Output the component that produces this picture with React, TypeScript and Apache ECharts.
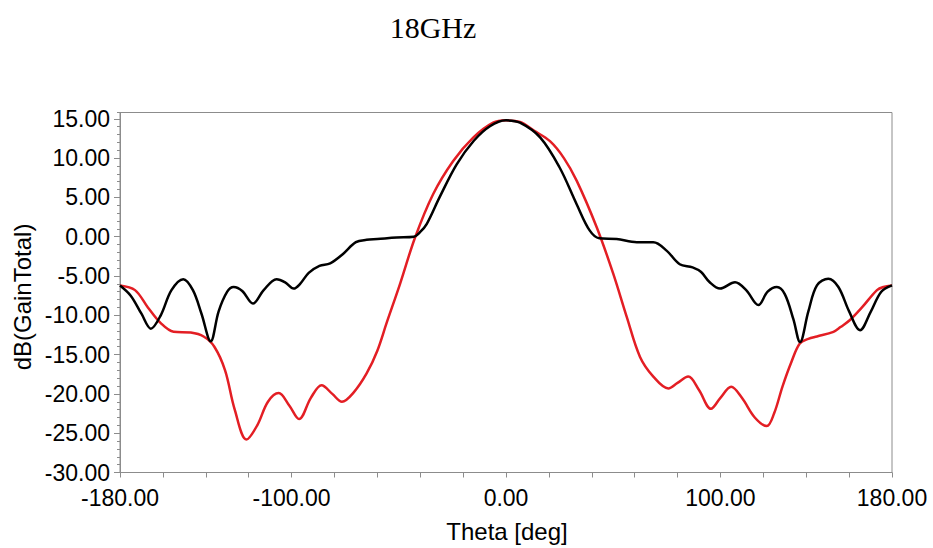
import React, { useEffect, useRef } from "react";
import * as echarts from "echarts";

const chartTitle = "18GHz";
const xAxisName = "Theta [deg]";
const yAxisName = "dB(GainTotal)";
const xLabelValues = [-180, -100, 0, 100, 180];

const blackTheta = [
  -180, -175, -170, -165.6, -161, -156, -150.5, -146, -142, -137.7, -134, -130, -127, -123, -118, -113, -107, -103,
  -99, -96, -92, -87, -82, -76, -70, -65, -60, -51, -43, -40, -37, -31, -23, -15, -7.5, 0, 6.5, 16, 25, 33, 39, 43.5,
  51.6, 61, 68.7, 75, 81, 87, 91, 95, 99.8, 106.8, 112, 117.7, 122, 126.3, 130, 134, 137.1, 141, 145, 150.3, 155, 160,
  165.1, 170, 175, 180,
];
const blackGain = [
  -6.2, -7.5, -9.8, -11.7, -10.0, -6.8, -5.4, -6.8, -9.8, -13.3, -9.5, -7.0, -6.4, -6.9, -8.5, -6.8, -5.4, -5.8,
  -6.6, -6.0, -4.6, -3.7, -3.4, -2.2, -0.7, -0.4, -0.3, -0.1, 0.0, 0.6, 1.6, 5.0, 9.2, 12.2, 14.05, 14.8, 14.5, 12.6,
  8.8, 4.1, 0.8, -0.2, -0.3, -0.7, -0.7, -1.8, -3.5, -3.9, -4.5, -5.8, -6.6, -5.8, -6.8, -8.7, -7.0, -6.4, -7.3, -10.5,
  -13.4, -9.5, -6.2, -5.35, -6.4, -9.5, -11.9, -9.6, -7.0, -6.2,
];

const redTheta = [
  -180, -173, -167, -161, -155, -147, -141, -136, -131, -126.5, -121, -116, -111, -106, -101, -96.5, -91, -86, -81,
  -76.5, -71, -65, -60, -55.7, -49.4, -42.4, -34, -24.7, -15.3, -6, 0, 6.5, 13, 20.5, 27, 33, 42.3, 50, 56.3, 62.5,
  68.7, 75.7, 80, 85, 90, 95.6, 100, 105, 110, 116, 121.6, 125, 129, 133, 137, 141, 145, 152.7, 156, 160.4, 166, 173,
  176, 180,
];
const redGain = [
  -6.2, -6.8, -9.0, -11.0, -12.1, -12.2, -12.7, -14.0, -17.0, -22.0, -25.8, -24.0, -21.0, -19.9, -21.5, -23.2, -20.5,
  -18.9, -20.0, -21.0, -19.8, -17.4, -14.5, -11.0, -6.0, -0.1, 5.4, 9.6, 12.6, 14.5, 14.8, 14.6, 13.5, 12.15, 10.0,
  7.1, 1.2, -4.7, -10.2, -15.3, -17.8, -19.3, -18.6, -17.8, -19.5, -21.9, -20.5, -19.1, -20.5, -23.0, -24.1, -22.5,
  -19.0, -16.0, -13.6, -13.0, -12.7, -12.1, -11.5, -10.6, -9.0, -6.8, -6.4, -6.2,
];

const toPairs = (xs: number[], ys: number[]) => xs.map((x, i) => [x, ys[i]]);

export default function App() {
  const ref = useRef<HTMLDivElement>(null);
  useEffect(() => {
    if (!ref.current) return;
    const chart = echarts.init(ref.current, undefined, { renderer: "svg" });
    const axisGray = "#8c8c8c";
    chart.setOption({
      animation: false,
      backgroundColor: "#ffffff",
      grid: { left: 120, right: 41, top: 112.5, bottom: 75.5, show: true, borderColor: axisGray, borderWidth: 1 },
      graphic: [
        {
          type: "text",
          x: 433,
          y: 27,
          style: {
            text: chartTitle,
            font: '30px "Liberation Serif", serif',
            fill: "#000",
            textAlign: "center",
            textVerticalAlign: "middle",
          },
        },
        {
          type: "text",
          x: 22,
          y: 297,
          rotation: Math.PI / 2,
          style: {
            text: yAxisName,
            font: '24px "Liberation Sans", Arial, sans-serif',
            fill: "#000",
            textAlign: "center",
            textVerticalAlign: "middle",
          },
        },
        {
          type: "text",
          x: 507,
          y: 531,
          style: {
            text: xAxisName,
            font: '24px "Liberation Sans", Arial, sans-serif',
            fill: "#000",
            textAlign: "center",
            textVerticalAlign: "middle",
          },
        },
      ],
      xAxis: {
        type: "value",
        min: -180,
        max: 180,
        interval: 20,
        axisLine: { show: true, onZero: false, lineStyle: { color: axisGray, width: 1 } },
        axisTick: { show: true, length: 5, inside: false, lineStyle: { color: axisGray } },
        splitLine: { show: false },
        axisLabel: {
          margin: 14,
          color: "#000",
          fontSize: 23,
          fontFamily: '"Liberation Sans", Arial, sans-serif',
          showMinLabel: true,
          showMaxLabel: true,
          formatter: (v: number) => (xLabelValues.includes(Math.round(v)) ? v.toFixed(2) : ""),
        },
      },
      yAxis: [
        {
          type: "value",
          min: -30,
          max: 15.8,
          interval: 5,
          axisLine: { show: true, onZero: false, lineStyle: { color: axisGray, width: 1 } },
          axisTick: { show: true, length: 6, lineStyle: { color: axisGray } },
          splitLine: { show: false },
          axisLabel: {
            margin: 10,
            color: "#000",
            fontSize: 23,
            fontFamily: '"Liberation Sans", Arial, sans-serif',
            showMaxLabel: false,
            formatter: (v: number) => (Math.abs(v % 5) < 1e-6 ? v.toFixed(2) : ""),
          },
        },
        {
          type: "value",
          min: -30,
          max: 15.8,
          interval: 1,
          position: "left",
          axisLine: { show: false, onZero: false },
          axisTick: { show: true, length: 3, lineStyle: { color: axisGray } },
          splitLine: { show: false },
          axisLabel: { show: false },
        },
      ],
      series: [
        {
          type: "line",
          yAxisIndex: 0,
          data: toPairs(redTheta, redGain),
          smooth: 0.35,
          showSymbol: false,
          lineStyle: { color: "#e31e24", width: 2.5 },
          z: 2,
        },
        {
          type: "line",
          yAxisIndex: 0,
          data: toPairs(blackTheta, blackGain),
          smooth: 0.35,
          showSymbol: false,
          lineStyle: { color: "#000000", width: 2.5 },
          z: 3,
        },
      ],
    });
    return () => chart.dispose();
  }, []);
  return <div ref={ref} style={{ position: "fixed", left: 0, top: 0, width: 933, height: 548 }} />;
}
